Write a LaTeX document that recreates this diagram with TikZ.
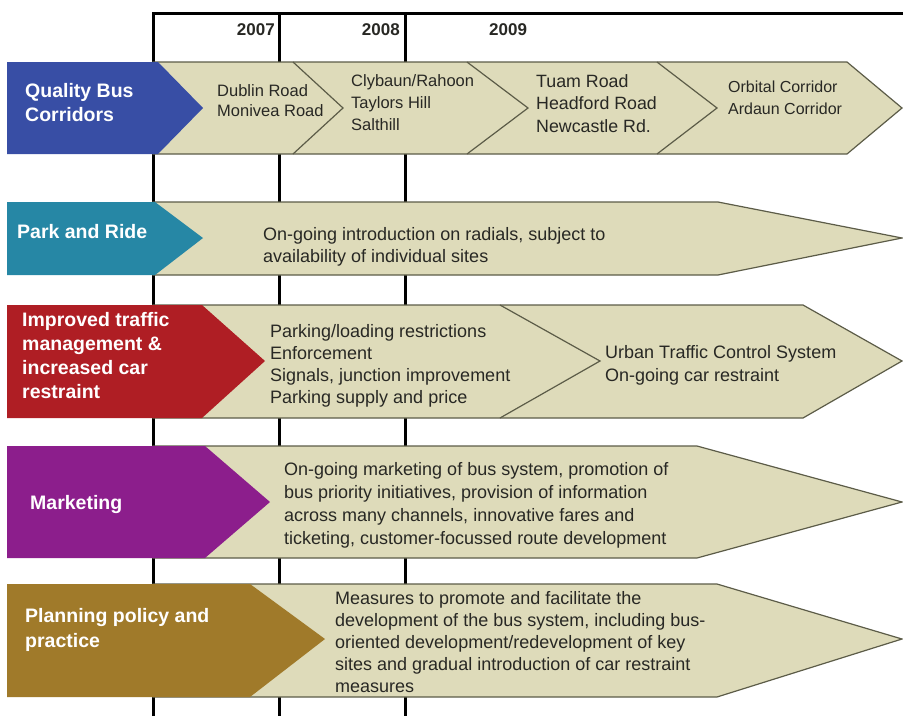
\documentclass[tikz,border=0pt]{standalone}
\usepackage{fontspec}
\setmainfont{Liberation Sans}
\definecolor{beige}{RGB}{222,219,186}
\definecolor{edge}{RGB}{92,92,72}
\definecolor{txt}{RGB}{40,40,36}
\definecolor{qbc}{RGB}{56,78,165}
\definecolor{prc}{RGB}{38,135,165}
\definecolor{itc}{RGB}{175,30,36}
\definecolor{mkc}{RGB}{140,30,140}
\definecolor{ppc}{RGB}{160,122,42}
\tikzset{
  yr/.style={font=\bfseries\fontsize{17}{20}\selectfont, text=txt, inner sep=0pt},
  lbl/.style={font=\bfseries\fontsize{19.5}{24}\selectfont, text=white, anchor=base west, align=left, inner sep=0pt},
  body/.style={font=\fontsize{18}{22}\selectfont, text=txt, anchor=base west, align=left, inner sep=0pt},
  band/.style={fill=beige, draw=edge, line width=1.2pt, line join=miter},
  divline/.style={draw=edge, line width=1.2pt},
  yearline/.style={line width=3pt, black},
}
\begin{document}
\begin{tikzpicture}[x=1pt,y=-1pt]
\useasboundingbox (0,0) rectangle (903,716);
% timeline grid
\coordinate (t0) at (153,13); \coordinate (b0) at (153,716);
\coordinate (t1) at (279,13); \coordinate (b1) at (279,716);
\coordinate (t2) at (405,13); \coordinate (b2) at (405,716);
\coordinate (tr) at (903,13);
\draw[yearline] (b0) -- (t0) -- (tr);
\draw[yearline] (t1) -- (b1);
\draw[yearline] (t2) -- (b2);
\node[yr, anchor=base east] (y2007) at (275,35) {2007};
\node[yr, anchor=base east] (y2008) at (400,35) {2008};
\node[yr, anchor=base west] (y2009) at (489,35) {2009};

% Row 1: Quality Bus Corridors
\filldraw[band] (153,62) -- (847,62) -- (902,108) -- (847,154) -- (153,154) -- cycle;
\draw[divline] (293,62) -- (343,108) -- (293,154);
\draw[divline] (467,62) -- (528,108) -- (467,154);
\draw[divline] (657,62) -- (717,108) -- (657,154);
\fill[qbc] (7,62) -- (158,62) -- (203,108) -- (158,154) -- (7,154) -- cycle;
\node[lbl] (qbc) at (25,121) {Quality Bus\\Corridors};
\node[body, font=\fontsize{16.5}{20}\selectfont] (qb1) at (217,116) {Dublin Road\\Monivea Road};
\node[body, font=\fontsize{16.5}{22}\selectfont] (qb2) at (351,130) {Clybaun/Rahoon\\Taylors Hill\\Salthill};
\node[body, font=\fontsize{17.8}{22.5}\selectfont] (qb3) at (536,132) {Tuam Road\\Headford Road\\Newcastle Rd.};
\node[body, font=\fontsize{16}{22}\selectfont] (qb4) at (728,114) {Orbital Corridor\\Ardaun Corridor};

% Row 2: Park and Ride
\filldraw[band] (153,202) -- (718,202) -- (902,238) -- (718,275) -- (153,275) -- cycle;
\fill[prc] (7,202) -- (155,202) -- (203,238) -- (155,275) -- (7,275) -- cycle;
\node[lbl] (pr) at (17,238) {Park and Ride};
\node[body] (pr1) at (263,262) {On-going introduction on radials, subject to\\availability of individual sites};

% Row 3: Improved traffic management
\filldraw[band] (153,305) -- (803,305) -- (902,361) -- (803,418) -- (153,418) -- cycle;
\draw[divline] (500,305) -- (600,361) -- (500,418);
\fill[itc] (7,305) -- (202,305) -- (265,361) -- (202,418) -- (7,418) -- cycle;
\node[lbl] (it) at (22,398) {Improved traffic\\management \&\\increased car\\restraint};
\node[body] (it1) at (270,403) {Parking/loading restrictions\\Enforcement\\Signals, junction improvement\\Parking supply and price};
\node[body, font=\fontsize{18}{23.5}\selectfont] (it2) at (605,381.5) {Urban Traffic Control System\\On-going car restraint};

% Row 4: Marketing
\filldraw[band] (153,446) -- (697,446) -- (902,502) -- (697,558) -- (153,558) -- cycle;
\fill[mkc] (7,446) -- (205,446) -- (270,502) -- (205,558) -- (7,558) -- cycle;
\node[lbl] (mk) at (30,509) {Marketing};
\node[body, font=\fontsize{18}{23}\selectfont] (mk1) at (284,544) {On-going marketing of bus system, promotion of\\bus priority initiatives, provision of information\\across many channels, innovative fares and\\ticketing, customer-focussed route development};

% Row 5: Planning policy and practice
\filldraw[band] (153,584) -- (717,584) -- (902,639) -- (717,697) -- (153,697) -- cycle;
\fill[ppc] (7,584) -- (250,584) -- (325,639) -- (250,697) -- (7,697) -- cycle;
\node[lbl, font=\bfseries\fontsize{19.5}{25}\selectfont] (pp) at (25,647) {Planning policy and\\practice};
\node[body] (pp1) at (335,692) {Measures to promote and facilitate the\\development of the bus system, including bus-\\oriented development/redevelopment of key\\sites and gradual introduction of car restraint\\measures};
\end{tikzpicture}
\end{document}
